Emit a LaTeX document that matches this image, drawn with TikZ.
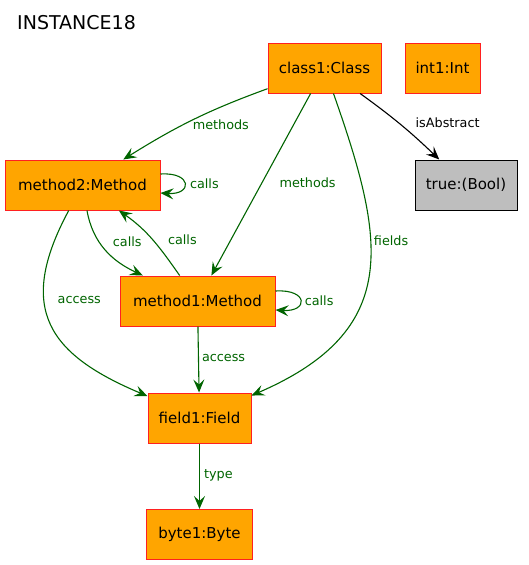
\documentclass[tikz,border=0pt]{standalone}
\usepackage{fontspec}
\setmainfont{DejaVu Sans}
\usepackage{tikz}
\usetikzlibrary{arrows.meta}
\definecolor{objfill}{HTML}{FFA500}
\definecolor{objline}{HTML}{FF2020}
\definecolor{valfill}{HTML}{BEBEBE}
\definecolor{relc}{HTML}{006400}
\tikzset{
  obj/.style={draw=objline,line width=1pt,fill=objfill,inner sep=0pt,
    minimum height=50pt,font=\fontsize{15}{18}\selectfont},
  objv/.style={obj,draw=black,fill=valfill},
  rel/.style={-{Stealth[length=13pt,width=11pt,inset=5pt]},line width=1.1pt,draw=relc},
  relb/.style={rel,draw=black},
  rlabel/.style={font=\fontsize{12.8}{15}\selectfont,text=relc,inner sep=2pt},
  rlabelb/.style={rlabel,text=black},
  figcap/.style={font=\fontsize{19}{22}\selectfont,anchor=west,inner sep=0pt},
}

\begin{document}
\begin{tikzpicture}[x=1pt,y=1pt]
  \useasboundingbox (0,0) rectangle (528,-565);
  % title
  \node[figcap] (title) at (17,-23) {INSTANCE18};
  % objects
  \node[obj,minimum width=113pt] (class1) at (324.5,-68) {class1:Class};
  \node[obj,minimum width=75pt] (int1) at (442.5,-68) {int1:Int};
  \node[objv,minimum width=102pt] (true) at (466,-185) {true:(Bool)};
  \node[obj,minimum width=155pt] (method2) at (82.5,-185) {method2:Method};
  \node[obj,minimum width=155pt] (method1) at (197.5,-301) {method1:Method};
  \node[obj,minimum width=103pt] (field1) at (199.5,-418) {field1:Field};
  \node[obj,minimum width=106pt] (byte1) at (199.5,-534.5) {byte1:Byte};
  % links from class1
  \draw[rel] (class1) to[out=200,in=32]
    node[rlabel,pos=.5,anchor=west,xshift=-3pt,yshift=-5pt] {methods} (method2);
  \draw[rel] (class1) -- node[rlabel,pos=.49,anchor=west,xshift=15pt] {methods} (method1);
  \draw[rel] (class1) .. controls (385,-240) and (403,-330) .. (field1)
    node[rlabel,pos=.39,anchor=west,xshift=1pt] {fields};
  \draw[relb] (class1) to[bend left=4]
    node[rlabelb,pos=.46,anchor=west,xshift=15pt] {isAbstract} (true);
  % calls
  \draw[rel] ([yshift=11pt]method2.east) .. controls +(32,2) and +(32,-2) .. ([yshift=-8pt]method2.east)
    node[rlabel,pos=.5,anchor=west,xshift=3pt] {calls};
  \draw[rel] ([yshift=10pt]method1.east) .. controls +(33,2) and +(33,-2) .. ([yshift=-9pt]method1.east)
    node[rlabel,pos=.5,anchor=west,xshift=2pt] {calls};
  \draw[rel] (method2) to[out=-80,in=155]
    node[rlabel,pos=.4,anchor=west,xshift=10pt,yshift=2pt] {calls} (method1);
  \draw[rel] (method1) to[out=125,in=-35]
    node[rlabel,pos=.5,anchor=west,xshift=13pt] {calls} (method2);
  % access and type
  \draw[rel] (method2) .. controls (15,-310) and (50,-355) .. (field1)
    node[rlabel,pos=.4,anchor=west,xshift=10pt,yshift=7pt] {access};
  \draw[rel] (method1) -- node[rlabel,pos=.48,anchor=west,xshift=1pt] {access} (field1);
  \draw[rel] (field1) -- node[rlabel,pos=.48,anchor=west,xshift=2pt] {type} (byte1);
\end{tikzpicture}
\end{document}
